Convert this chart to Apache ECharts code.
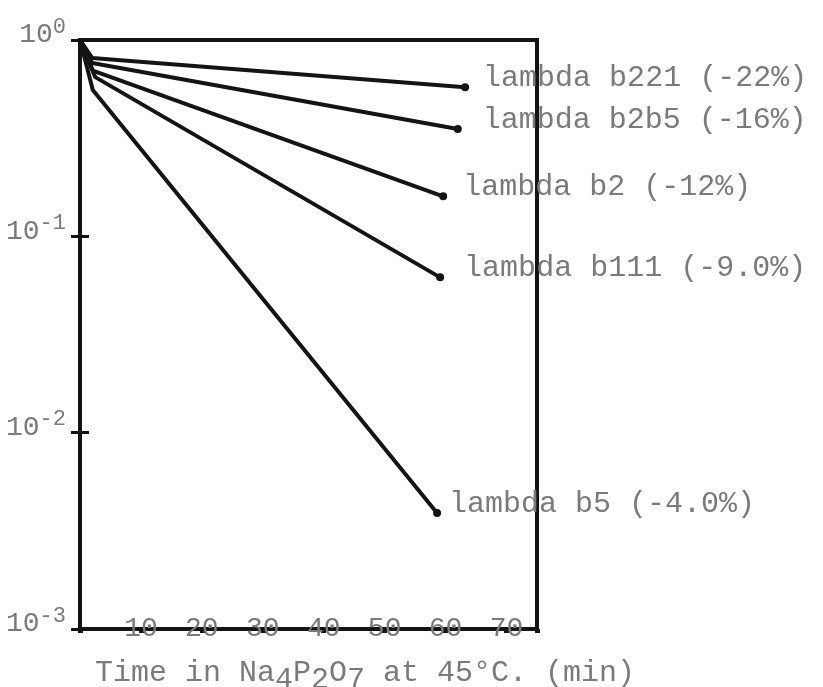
<!DOCTYPE html>
<html lang="en">
<head>
    <meta charset="UTF-8">
    <title>Phage survival in pyrophosphate</title>
    <script src="https://cdn.jsdelivr.net/npm/echarts/dist/echarts.min.js"></script>
    <style>
        html, body { margin: 0; padding: 0; background: #fff; }
        #main { width: 823px; height: 687px; }
    </style>
</head>
<body>
    <div id="main"></div>

    <script>
        // series names as typed next to each line
        var seriesNames = ['lambda b221 (-22%)', 'lambda b2b5 (-16%)', 'lambda b2 (-12%)', 'lambda b111 (-9.0%)', 'lambda b5 (-4.0%)'];
        // time points (min) for each line: start, first reading, last reading
        var times = [
            [0, 2.0, 63.2],
            [0, 2.0, 62.0],
            [0, 2.1, 59.6],
            [0, 2.5, 59.1],
            [0, 2.1, 58.6]
        ];
        // surviving fraction at those times
        var survival = [
            [1, 0.81, 0.575],
            [1, 0.763, 0.352],
            [1, 0.699, 0.160],
            [1, 0.647, 0.0618],
            [1, 0.556, 0.0039]
        ];
        var xTickLabels = [10, 20, 30, 40, 50, 60, 70];
        var yTickValues = [1, 0.1, 0.01, 0.001];

        // gap between end dot and its typed label, per line
        var labelGap = [18, 25, 20, 24, 12];

        var typeFont = "'Liberation Mono', 'DejaVu Sans Mono', monospace";
        var ink = '#141414';
        var typeGray = '#7a7a7a';

        var chart = echarts.init(document.getElementById('main'));

        var series = seriesNames.map(function (name, i) {
            return {
                name: name,
                type: 'line',
                data: times[i].map(function (t, j) { return [t, survival[i][j]]; }),
                symbol: 'circle',
                symbolSize: function (val, params) { return params.dataIndex === 2 ? 8 : 0; },
                showAllSymbol: true,
                itemStyle: { color: ink },
                lineStyle: { color: ink, width: 4 },
                endLabel: {
                    show: true,
                    formatter: name,
                    distance: labelGap[i],
                    offset: [0, -9],
                    fontFamily: typeFont,
                    fontSize: 30,
                    color: typeGray
                },
                emphasis: { disabled: true }
            };
        });

        function yLabel(v) {
            var exp = Math.round(-Math.log(v) / Math.LN10);
            if (yTickValues.indexOf(v) < 0) return '';
            if (exp === 0) return '{n|10}{e|0}';
            return '{n|10}{e|-' + exp + '}';
        }

        var option = {
            animation: false,
            backgroundColor: '#fff',
            grid: { left: 80, right: 286, top: 40, bottom: 58, show: true, borderColor: ink, borderWidth: 4 },
            title: {
                left: 90,
                top: 646,
                text: '{t|Time in Na}{s|4}{t|P}{s|2}{t|O}{s|7}{t| at 45°C. (min)}',
                textStyle: {
                    fontWeight: 'normal',
                    rich: {
                        t: { fontFamily: typeFont, fontSize: 30, fontWeight: 'normal', color: typeGray },
                        s: { fontFamily: typeFont, fontSize: 30, fontWeight: 'normal', color: typeGray, padding: [14, 0, 0, 0] }
                    }
                }
            },
            xAxis: {
                type: 'value',
                min: 0,
                max: 75,
                interval: 10,
                splitLine: { show: false },
                axisLine: { lineStyle: { color: ink, width: 4 } },
                axisTick: { show: true, length: 4, lineStyle: { color: ink, width: 5 } },
                axisLabel: {
                    margin: -14,
                    fontFamily: typeFont,
                    fontSize: 28,
                    color: typeGray,
                    formatter: function (v) { return xTickLabels.indexOf(v) >= 0 ? String(v) : ''; }
                }
            },
            yAxis: [{
                type: 'log',
                logBase: 10,
                min: 0.001,
                max: 1,
                position: 'left',
                splitLine: { show: false },
                axisLine: { lineStyle: { color: ink, width: 4 } },
                axisTick: { show: true, length: 9, lineStyle: { color: ink, width: 3 } },
                axisLabel: {
                    margin: 14,
                    padding: [0, 0, 10, 0],
                    formatter: yLabel,
                    rich: {
                        n: { fontFamily: typeFont, fontSize: 28, color: typeGray },
                        e: { fontFamily: typeFont, fontSize: 22, color: typeGray, padding: [0, 0, 16, 0] }
                    }
                }
            }, {
                // inner half of the tick dashes
                type: 'log',
                logBase: 10,
                min: 0.001,
                max: 1,
                position: 'left',
                splitLine: { show: false },
                axisLine: { show: false },
                axisTick: { show: true, inside: true, length: 9, lineStyle: { color: ink, width: 3 } },
                axisLabel: { show: false }
            }],
            series: series
        };

        chart.setOption(option);
    </script>
</body>
</html>
